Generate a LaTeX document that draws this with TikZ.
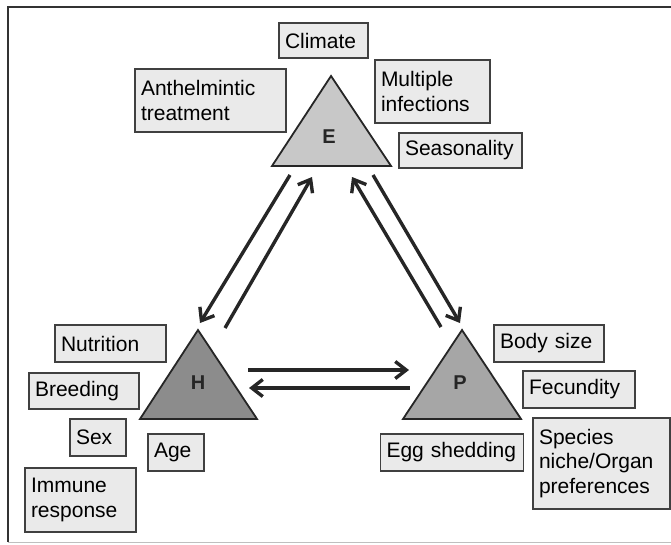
\documentclass[tikz,border=0pt]{standalone}
\usepackage{fontspec}
\setmainfont{Liberation Sans}
\usetikzlibrary{arrows.meta}
\definecolor{boxgray}{RGB}{234,234,234}
\definecolor{egray}{RGB}{200,200,200}
\definecolor{hgray}{RGB}{140,140,140}
\definecolor{pgray}{RGB}{166,166,166}

\begin{document}
\begin{tikzpicture}[x=1pt,y=-1pt,
  factor/.style={draw=black!75,line width=1.4pt,fill=boxgray,inner xsep=6pt,inner ysep=4pt,
    align=left,font=\fontsize{21}{24.5}\selectfont},
  corner/.style={draw=black!85,line width=1.8pt,line join=miter},
  letter/.style={font=\fontsize{20}{20}\selectfont\bfseries,text=black!85},
  link/.style={line width=3.4pt,draw=black!85,-{Straight Barb[length=11pt,width=17pt]}}]
\useasboundingbox (0,0) rectangle (671,544);
% frame
\draw[line width=2.5pt,black!80] (671,7) -- (8,7) -- (8,542);
\draw[line width=1pt,black!25] (8,542) -- (671,542);
% triangles
\filldraw[corner,fill=egray] (331,76) -- (391,166) -- (272,166) -- cycle;
\filldraw[corner,fill=hgray] (198,330) -- (257,419) -- (140,419) -- cycle;
\filldraw[corner,fill=pgray] (462,330) -- (521,419) -- (403,419) -- cycle;
\node[letter] (E) at (329,137) {E};
\node[letter] (H) at (198,383) {H};
\node[letter] (P) at (460,383) {P};
% factors around E
\node[factor,text width=77pt,minimum height=35pt] (climate) at (323.5,40.5) {Climate};
\node[factor,text width=139pt,minimum height=63pt] (anthel) at (210.5,100.5) {Anthelmintic\\treatment};
\node[factor,text width=103pt,minimum height=63pt] (multi) at (432.5,91.5) {Multiple\\infections};
\node[factor,text width=111pt,minimum height=35pt] (season) at (460.5,150.5) {Seasonality};
% factors around H
\node[factor,text width=99pt,minimum height=37pt] (nutri) at (110.5,343.5) {Nutrition};
\node[factor,text width=98pt,minimum height=36pt] (breed) at (84,391) {Breeding};
\node[factor,text width=44pt,minimum height=37pt] (sex) at (98,437.5) {Sex};
\node[factor,text width=44pt,minimum height=37pt] (age) at (176,452.5) {Age};
\node[factor,text width=99pt,minimum height=64pt] (immune) at (80.5,500) {Immune\\response};
% factors around P
\node[factor,text width=98pt,minimum height=37pt] (body) at (549,343.5) {Body size};
\node[factor,text width=100pt,minimum height=37pt] (fecund) at (579,389.5) {Fecundity};
\node[factor,text width=131pt,minimum height=37pt] (egg) at (452,452.5) {Egg shedding};
\node[factor,text width=125pt,minimum height=91pt] (species) at (601.5,463.5) {Species\\niche/Organ\\preferences};
% arrow ends
\coordinate (eh) at (290,175); \coordinate (he) at (200,323);
\coordinate (hs) at (225,328); \coordinate (es) at (312,177);
\coordinate (ps) at (441,327); \coordinate (ep) at (352,177);
\coordinate (et) at (373,175); \coordinate (pe) at (460,323);
\coordinate (hp) at (248,370); \coordinate (ph) at (409,370);
\coordinate (pq) at (410,388); \coordinate (hq) at (249,388);
\draw[link] (eh) -- (he);
\draw[link] (hs) -- (es);
\draw[link] (ps) -- (ep);
\draw[link] (et) -- (pe);
\draw[link] (hp) -- (ph);
\draw[link] (pq) -- (hq);
\end{tikzpicture}
\end{document}
